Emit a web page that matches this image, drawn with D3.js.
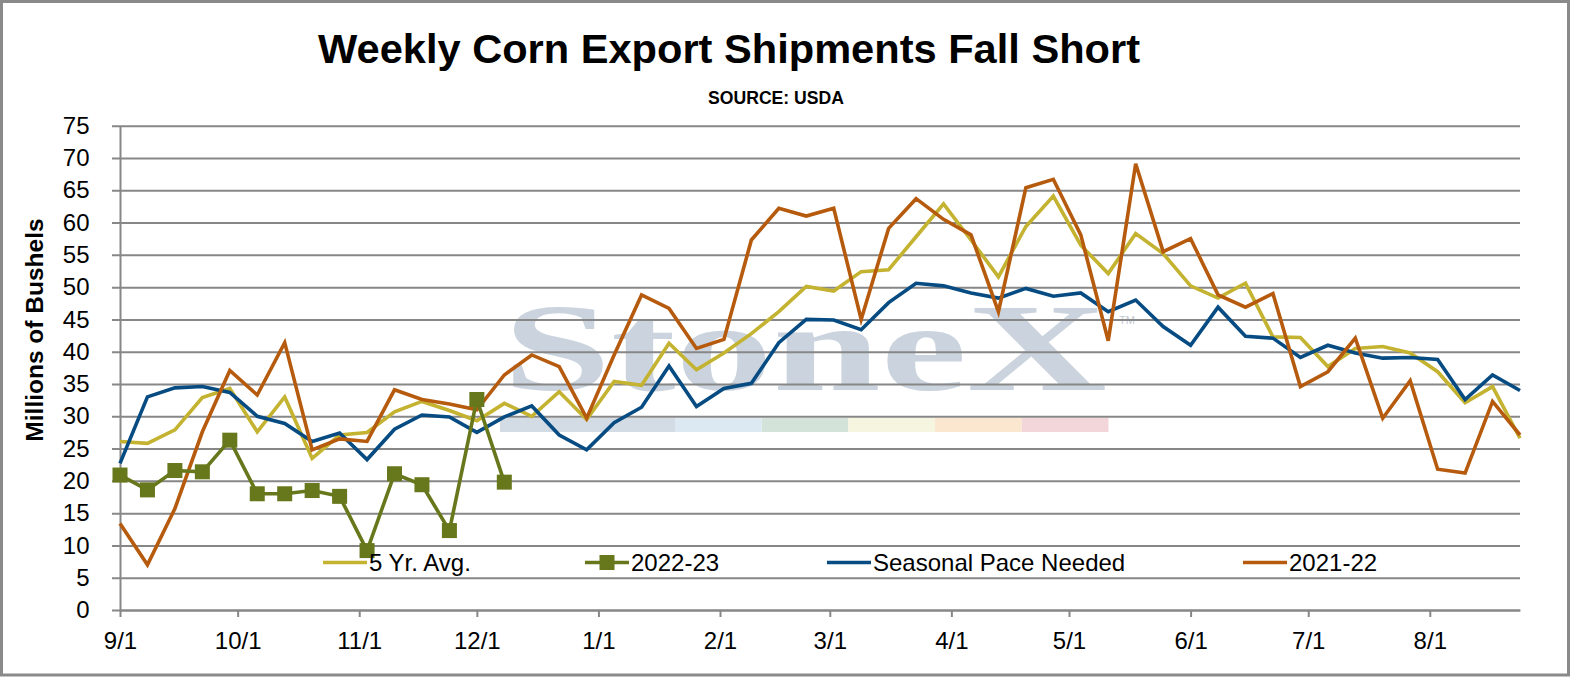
<!DOCTYPE html>
<html>
<head>
<meta charset="utf-8">
<script src="https://cdn.jsdelivr.net/npm/d3@7/dist/d3.min.js"></script>
<style>
  body { margin: 0; background: #fff; }
  svg text { font-family: "Liberation Sans", Arial, sans-serif; }
</style>
</head>
<body>
<div id="chart"></div>
<script>

// weekly series, first week ending 9/1
var fiveYrAvg = [26.1, 25.8, 27.9, 32.9, 34.3, 27.6, 33.0, 23.5, 27.1, 27.5,
		 30.7, 32.3, 30.9, 29.3, 32.0, 30.0, 33.8, 29.5, 35.4, 34.8,
		 41.3, 37.2, 39.8, 42.8, 46.2, 50.1, 49.4, 52.4, 52.7, 57.8,
		 62.9, 57.3, 51.6, 59.4, 64.1, 56.5, 52.1, 58.3, 55.2, 50.2,
		 48.3, 50.6, 42.3, 42.2, 37.7, 40.5, 40.8, 39.8, 36.9, 32.1,
		 34.6, 26.6];

var seasonalPace = [22.7, 33.0, 34.4, 34.6, 33.7, 30.0, 28.9, 26.1, 27.4, 23.3,
		    28.0, 30.2, 29.9, 27.5, 29.9, 31.6, 27.1, 24.8, 29.0, 31.4,
		    37.8, 31.5, 34.3, 35.1, 41.4, 45.0, 44.9, 43.4, 47.6, 50.6,
		    50.2, 49.1, 48.3, 49.8, 48.6, 49.1, 46.2, 48.0, 43.9, 41.0,
		    46.9, 42.4, 42.1, 39.1, 41.0, 39.8, 39.0, 39.1, 38.8, 32.6,
		    36.4, 34.0];

var my2122 = [13.4, 7.0, 15.7, 27.6, 37.1, 33.3, 41.4, 24.8, 26.5, 26.1,
	      34.1, 32.6, 31.9, 31.0, 36.4, 39.5, 37.7, 29.7, 39.5, 48.8,
	      46.7, 40.5, 41.9, 57.3, 62.2, 61.0, 62.2, 45.0, 59.1, 63.7,
	      60.5, 58.1, 46.2, 65.4, 66.7, 58.1, 41.7, 69.1, 55.5, 57.5,
	      48.8, 46.9, 49.0, 34.6, 36.9, 42.1, 29.7, 35.5, 21.8, 21.2,
	      32.3, 27.1];

var my2223 = [20.9, 18.6, 21.6, 21.4, 26.3, 18.0, 18.0, 18.5, 17.6, 9.2,
	      21.1, 19.4, 12.3, 32.6, 19.8];

var tickLabels = ["9/1", "10/1", "11/1", "12/1", "1/1", "2/1",
		  "3/1", "4/1", "5/1", "6/1", "7/1", "8/1"];
var yTicks = [0, 5, 10, 15, 20, 25, 30, 35, 40, 45, 50, 55, 60, 65, 70, 75];

var series = [
    { name: "5 Yr. Avg.", values: fiveYrAvg, color: "#c4b231", marker: false },
    { name: "Seasonal Pace Needed", values: seasonalPace, color: "#064b82", marker: false },
    { name: "2021-22", values: my2122, color: "#b65b0e", marker: false },
    { name: "2022-23", values: my2223, color: "#67771b", marker: true }
];
var legendOrder = ["5 Yr. Avg.", "2022-23", "Seasonal Pace Needed", "2021-22"];
var legendX = [323, 585, 827, 1243];

(function(){

var start = new Date(2022, 8, 1);
var weekDates = fiveYrAvg.map(function(d, i){ return d3.timeDay.offset(start, 7 * i); });
var tickDates = tickLabels.map(function(s){
    var p = s.split("/").map(Number);
    return new Date(p[0] >= 9 ? 2022 : 2023, p[0] - 1, p[1]);
});

var W = 1577, H = 677;
var m = { left: 120, right: 1520, top: 125.7, bottom: 610 };

var x = d3.scaleTime()
    .domain([start, weekDates[weekDates.length - 1]])
    .range([m.left, m.right]);
var y = d3.scaleLinear().domain([0, 75]).range([m.bottom, m.top]);

var svg = d3.select("#chart").append("svg")
    .attr("width", W).attr("height", H);

svg.append("rect")
    .attr("x", 1.5).attr("y", 1.5)
    .attr("width", 1567).attr("height", 673.5)
    .attr("fill", "#fff")
    .attr("stroke", "#8a8a8a").attr("stroke-width", 3);

// watermark (behind gridlines)
var wm = svg.append("g").attr("class", "watermark");
wm.append("text")
    .attr("x", 503).attr("y", 390)
    .attr("textLength", 604).attr("lengthAdjust", "spacingAndGlyphs")
    .style("font-family", "'Liberation Serif', 'Times New Roman', serif")
    .style("font-weight", "bold")
    .style("font-size", "124px")
    .attr("fill", "#cbd4de")
    .text("StoneX");
wm.append("text")
    .attr("x", 1119).attr("y", 324)
    .style("font-size", "11px")
    .attr("fill", "#c3cbd5")
    .text("TM");
var bandColors = ["#d3dbe5", "#dde9f2", "#d4e3d9", "#f6f5df", "#fbe6cf", "#f3d6da"];
var bandW = [175, 86.7, 86.7, 86.7, 86.7, 86.7];
var bx = 500;
bandColors.forEach(function(c, i){
    wm.append("rect")
	.attr("x", bx).attr("y", 418)
	.attr("width", bandW[i]).attr("height", 14)
	.attr("fill", c);
    bx += bandW[i];
});

// y axis + gridlines
var yAxis = svg.append("g")
    .attr("transform", "translate(" + m.left + ",0)")
    .call(d3.axisLeft(y).tickValues(yTicks)
	  .tickSizeInner(-(m.right - m.left)).tickSizeOuter(0).tickPadding(30.5));
yAxis.selectAll(".tick line")
    .attr("x1", -8)
    .attr("stroke", "#878787").attr("stroke-width", 2);
yAxis.select(".domain").attr("stroke", "#878787").attr("stroke-width", 2);
yAxis.selectAll("text")
    .style("font-size", "24px").attr("fill", "#000");

// x axis
var xAxis = svg.append("g")
    .attr("transform", "translate(0," + m.bottom + ")")
    .call(d3.axisBottom(x).tickValues(tickDates)
	  .tickFormat(function(d, i){ return tickLabels[i]; })
	  .tickSizeInner(7).tickSizeOuter(0).tickPadding(15));
xAxis.selectAll(".tick line").attr("stroke", "#878787").attr("stroke-width", 2);
xAxis.select(".domain").attr("stroke", "#878787").attr("stroke-width", 2);
xAxis.selectAll("text")
    .style("font-size", "24px").attr("fill", "#000");

// lines
var line = d3.line()
    .x(function(d, i){ return x(weekDates[i]); })
    .y(function(d){ return y(d); });

series.forEach(function(s){
    svg.append("path")
	.datum(s.values)
	.attr("d", line)
	.attr("fill", "none")
	.attr("stroke", s.color)
	.attr("stroke-width", 3.6)
	.attr("stroke-linejoin", "miter");
    if (s.marker){
	svg.append("g").selectAll("rect")
	    .data(s.values)
	    .enter()
	    .append("rect")
	    .attr("x", function(d, i){ return x(weekDates[i]) - 7.5; })
	    .attr("y", function(d){ return y(d) - 7.5; })
	    .attr("width", 15).attr("height", 15)
	    .attr("fill", s.color);
    }
});

// legend
var leg = svg.append("g").attr("class", "legend");
legendOrder.forEach(function(name, i){
    var s = series.filter(function(a){ return a.name == name; })[0];
    var g = leg.append("g").attr("transform", "translate(" + legendX[i] + ",562.5)");
    g.append("line")
	.attr("x1", 0).attr("x2", 44)
	.attr("stroke", s.color).attr("stroke-width", 3.6);
    if (s.marker){
	g.append("rect")
	    .attr("x", 14.5).attr("y", -7.5)
	    .attr("width", 15).attr("height", 15)
	    .attr("fill", s.color);
    }
    g.append("text")
	.attr("x", 46).attr("y", 8.5)
	.style("font-size", "24px")
	.text(s.name);
});

// titles
svg.append("text")
    .attr("x", 318).attr("y", 63)
    .attr("textLength", 822).attr("lengthAdjust", "spacingAndGlyphs")
    .style("font-size", "41px").style("font-weight", "bold")
    .text("Weekly Corn Export Shipments Fall Short");

svg.append("text")
    .attr("x", 708).attr("y", 104)
    .attr("textLength", 136).attr("lengthAdjust", "spacingAndGlyphs")
    .style("font-size", "18px").style("font-weight", "bold")
    .text("SOURCE: USDA");

svg.append("text")
    .attr("transform", "translate(43,330) rotate(-90)")
    .attr("text-anchor", "middle")
    .style("font-size", "24.5px").style("font-weight", "bold")
    .text("Millions of Bushels");

})();

</script>
</body>
</html>
